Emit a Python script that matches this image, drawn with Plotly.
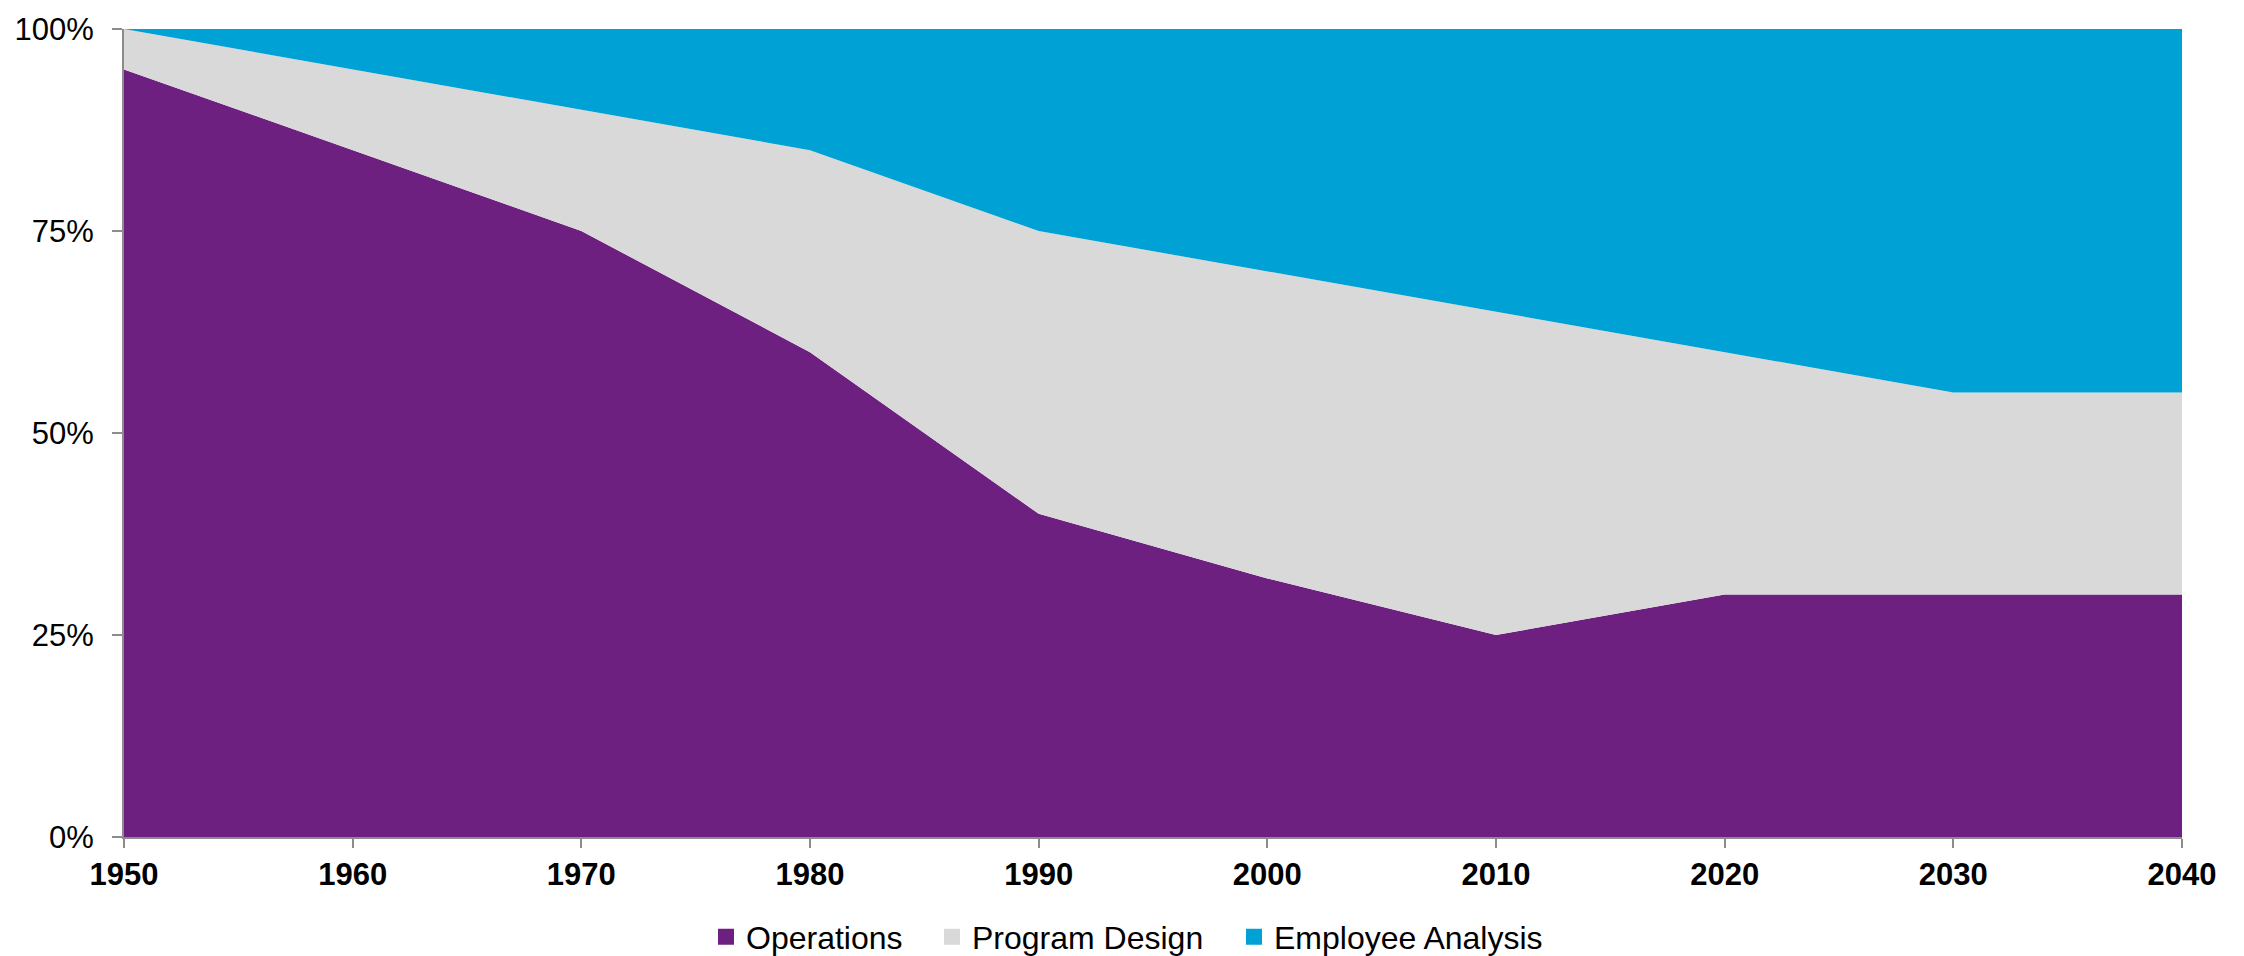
import plotly.graph_objects as go

# Share of workforce effort by function, per decade (percent of total)
years = [1950, 1960, 1970, 1980, 1990, 2000, 2010, 2020, 2030, 2040]
operations = [95, 85, 75, 60, 40, 32, 25, 30, 30, 30]
program_design = [5, 10, 15, 25, 35, 38, 40, 30, 25, 25]
employee_analysis = [0, 5, 10, 15, 25, 30, 35, 40, 45, 45]

y_ticks = [0, 25, 50, 75, 100]
y_tick_labels = ["0%", "25%", "50%", "75%", "100%"]

series = [
    ("Operations", operations, "#6E2080", "legend"),
    ("Program Design", program_design, "#D9D9D9", "legend2"),
    ("Employee Analysis", employee_analysis, "#00A1D4", "legend3"),
]

fig = go.Figure()
for name, vals, color, leg in series:
    fig.add_trace(go.Scatter(
        x=years, y=vals, name=name, mode="lines",
        stackgroup="share", fillcolor=color,
        line=dict(width=0, color=color),
        showlegend=False, hoverinfo="x+y+name",
    ))
    # square swatch for the legend
    fig.add_trace(go.Scatter(
        x=[None], y=[None], name=name, mode="markers",
        marker=dict(symbol="square", size=16, color=color),
        showlegend=True, legend=leg,
    ))

font_family = "Liberation Sans, Arial, sans-serif"
legend_common = dict(
    orientation="h", xref="container", yref="container",
    xanchor="left", y=0.0199, yanchor="middle",
    font=dict(size=32, family=font_family), itemwidth=30,
    bgcolor="rgba(0,0,0,0)", borderwidth=0,
)
# left edges of the three legend entries (px)
legend_left = [706, 932, 1234]

axis_color = "#8C8C8C"
fig.update_layout(
    width=2244, height=956,
    paper_bgcolor="white", plot_bgcolor="white",
    margin=dict(l=124, r=62, t=22, b=119),
    font=dict(family=font_family, color="black"),
    legend=dict(legend_common, x=legend_left[0] / 2244),
    legend2=dict(legend_common, x=legend_left[1] / 2244),
    legend3=dict(legend_common, x=legend_left[2] / 2244),
    xaxis=dict(
        range=[1950, 2040], tickvals=years, ticktext=[str(y) for y in years],
        showgrid=False, zeroline=False,
        showline=True, linecolor=axis_color, linewidth=2,
        ticks="outside", ticklen=9, tickwidth=2, tickcolor=axis_color,
        tickfont=dict(size=31, family=font_family, weight="bold"),
    ),
    yaxis=dict(
        range=[0, 100], tickvals=y_ticks, ticktext=y_tick_labels,
        showgrid=False, zeroline=False,
        showline=True, linecolor=axis_color, linewidth=2,
        ticks="outside", ticklen=10, tickwidth=2, tickcolor=axis_color,
        ticklabelstandoff=12,
        tickfont=dict(size=31, family=font_family),
    ),
)

fig.write_html("out.html")
